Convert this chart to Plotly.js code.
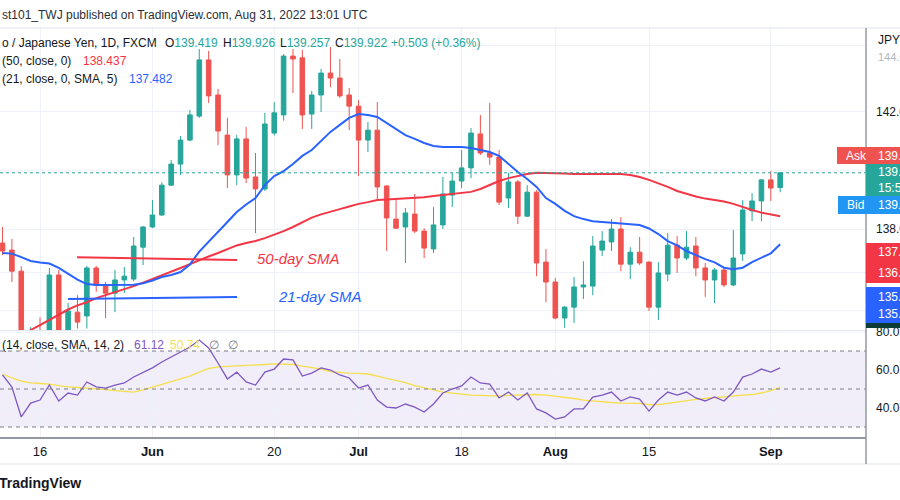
<!DOCTYPE html>
<html>
<head>
<meta charset="utf-8">
<script src="https://cdn.plot.ly/plotly-3.0.1.min.js"></script>
<style>html,body{margin:0;padding:0;background:#fff;}#chart{width:900px;height:500px;}</style>
</head>
<body>
<div id="chart"></div>
<script>
// ---- data (EUR/JPY 1D, FXCM) ----
const dates = [
 '2022-05-10','2022-05-11','2022-05-12','2022-05-13',
 '2022-05-16','2022-05-17','2022-05-18','2022-05-19','2022-05-20',
 '2022-05-23','2022-05-24','2022-05-25','2022-05-26','2022-05-27',
 '2022-05-30','2022-05-31','2022-06-01','2022-06-02','2022-06-03',
 '2022-06-06','2022-06-07','2022-06-08','2022-06-09','2022-06-10',
 '2022-06-13','2022-06-14','2022-06-15','2022-06-16','2022-06-17',
 '2022-06-20','2022-06-21','2022-06-22','2022-06-23','2022-06-24',
 '2022-06-27','2022-06-28','2022-06-29','2022-06-30','2022-07-01',
 '2022-07-04','2022-07-05','2022-07-06','2022-07-07','2022-07-08',
 '2022-07-11','2022-07-12','2022-07-13','2022-07-14','2022-07-15',
 '2022-07-18','2022-07-19','2022-07-20','2022-07-21','2022-07-22',
 '2022-07-25','2022-07-26','2022-07-27','2022-07-28','2022-07-29',
 '2022-08-01','2022-08-02','2022-08-03','2022-08-04','2022-08-05',
 '2022-08-08','2022-08-09','2022-08-10','2022-08-11','2022-08-12',
 '2022-08-15','2022-08-16','2022-08-17','2022-08-18','2022-08-19',
 '2022-08-22','2022-08-23','2022-08-24','2022-08-25','2022-08-26',
 '2022-08-29','2022-08-30','2022-08-31','2022-09-01','2022-09-02'];

const openP = [137.52,137.28,136.56,134.25,134.40,134.30,136.43,134.50,135.16,135.03,
 136.67,136.05,135.81,136.26,136.29,137.38,138.07,138.48,139.50,140.22,
 141.04,141.86,143.78,142.58,141.21,139.85,141.08,139.78,139.37,141.28,
 141.90,143.91,143.85,141.93,142.58,143.33,143.16,142.58,142.20,141.04,
 141.38,139.47,138.34,138.07,138.51,137.93,137.32,138.14,139.16,139.64,
 140.09,141.25,140.60,140.46,139.06,139.61,138.44,139.26,136.87,136.19,
 134.96,135.33,136.02,136.05,137.28,137.56,138.00,136.80,137.21,136.87,
 135.33,136.46,137.45,137.01,137.42,136.67,136.26,136.60,136.09,137.15,
 138.62,138.96,139.68,139.419];
const highP = [138.07,137.66,136.73,134.65,134.99,136.67,136.60,135.47,135.74,136.74,
 136.74,136.19,136.60,136.70,137.73,138.10,138.99,139.60,140.36,141.18,
 142.07,144.15,144.09,142.79,141.80,141.21,141.49,140.60,141.97,142.34,
 143.98,144.15,144.12,142.72,143.47,144.22,143.81,142.82,142.41,141.66,
 142.34,139.50,139.06,138.72,139.20,138.03,138.75,139.78,139.92,140.70,
 141.45,141.90,142.31,140.70,139.92,139.68,139.50,139.33,137.32,136.33,
 135.37,136.36,136.90,137.76,137.93,138.34,138.41,137.38,137.73,136.90,
 136.87,137.86,137.76,137.93,137.73,136.84,136.67,136.67,137.97,138.99,
 139.23,139.71,139.98,139.926];
const lowP = [137.11,136.19,133.70,133.75,133.90,134.10,134.30,134.30,134.60,134.60,
 135.85,134.96,135.16,135.81,136.22,136.77,138.03,138.45,139.47,139.85,
 141.00,141.80,142.31,140.87,139.40,139.50,139.57,137.86,139.30,141.20,
 141.70,142.65,141.42,141.42,142.00,142.85,142.48,141.38,139.81,140.63,
 138.99,137.25,138.00,136.84,137.86,137.01,137.18,138.00,138.75,139.40,
 139.74,140.53,140.19,138.82,138.72,138.17,138.41,136.39,135.50,134.92,
 134.62,134.79,135.61,135.74,137.08,137.25,136.56,136.29,136.77,135.20,
 134.89,136.22,136.50,136.94,136.39,135.68,135.47,136.02,136.05,136.91,
 138.27,138.27,138.96,139.257];
const closeP = [137.25,136.56,134.30,134.45,134.20,136.43,134.50,135.20,134.82,136.67,
 136.09,135.81,136.26,136.39,137.42,138.07,138.48,139.50,140.22,141.04,
 141.90,143.78,142.55,141.35,139.85,141.08,139.74,139.37,141.59,141.97,
 143.91,143.81,141.90,142.58,143.33,143.16,142.55,142.20,141.04,141.38,
 139.44,138.38,138.03,138.55,137.93,137.35,138.14,139.20,139.64,140.09,
 141.28,140.60,140.46,138.92,139.61,138.44,139.26,136.84,136.19,134.96,
 135.33,136.02,136.09,137.42,137.59,138.00,136.80,137.21,136.84,135.33,
 136.50,137.45,137.01,137.38,136.67,136.26,136.60,136.09,137.01,138.65,
 138.96,139.68,139.40,139.922];

const sma50 = [null,null,134.34,134.55,134.72,134.89,135.06,135.25,135.39,135.50,
 135.64,135.74,135.85,135.95,136.05,136.17,136.29,136.43,136.53,136.67,
 136.80,136.94,137.06,137.18,137.32,137.44,137.52,137.59,137.69,137.80,
 137.93,138.07,138.24,138.39,138.50,138.60,138.68,138.77,138.86,138.92,
 138.99,139.01,139.03,139.04,139.06,139.09,139.13,139.16,139.20,139.23,
 139.27,139.37,139.50,139.64,139.74,139.81,139.88,139.92,139.92,139.92,
 139.90,139.88,139.88,139.88,139.88,139.88,139.88,139.85,139.78,139.68,
 139.57,139.44,139.30,139.20,139.11,139.04,138.99,138.94,138.86,138.75,
 138.65,138.56,138.50,138.437];
const sma21 = [137.18,137.16,137.04,136.91,136.86,136.82,136.67,136.48,136.27,136.12,
 136.09,136.09,136.09,136.09,136.10,136.15,136.24,136.36,136.43,136.53,
 136.79,137.23,137.56,137.88,138.24,138.58,138.84,139.06,139.50,139.81,
 139.98,140.22,140.50,140.70,141.01,141.32,141.56,141.80,141.93,141.90,
 141.83,141.62,141.42,141.21,141.08,140.94,140.84,140.80,140.80,140.80,
 140.77,140.70,140.63,140.50,140.22,139.95,139.71,139.44,139.06,138.86,
 138.62,138.44,138.34,138.27,138.24,138.21,138.19,138.17,138.14,138.02,
 137.83,137.59,137.44,137.25,137.11,136.97,136.86,136.68,136.63,136.68,
 136.87,137.03,137.17,137.482];

const rsi = [57.4,51.0,35.3,42.6,44.2,52.1,43.7,47.9,46.8,53.7,
 51.1,50.5,52.1,53.2,56.3,58.9,61.1,64.2,66.8,69.5,
 72.1,75.8,71.6,63.7,55.3,58.9,53.7,52.1,58.9,60.5,
 65.8,65.3,56.8,58.4,61.1,60.0,57.4,55.8,50.5,52.1,
 44.2,40.5,40.0,42.1,40.5,37.9,42.1,47.9,50.0,51.6,
 56.3,53.2,52.6,45.3,48.4,44.2,47.9,39.5,37.4,34.2,
 35.3,39.5,39.5,45.8,46.8,48.4,43.7,45.8,44.7,38.4,
 44.2,48.4,46.8,48.4,45.3,43.7,45.8,43.7,48.4,56.3,
 57.9,60.5,58.9,61.12];
const rsiMa = [57.9,55.8,54.2,53.2,52.9,52.6,51.8,51.1,50.8,50.5,
 50.0,49.7,49.2,48.7,48.4,49.5,50.8,52.4,53.9,55.3,
 56.8,58.9,60.8,61.6,61.8,62.1,62.4,62.6,62.9,63.2,
 63.2,62.9,62.1,61.3,60.5,59.2,58.7,58.4,58.2,57.9,
 56.8,55.8,54.7,53.4,51.8,50.5,49.5,48.4,47.9,47.1,
 46.8,46.6,46.3,46.3,46.6,46.8,47.1,47.1,46.8,46.3,
 45.8,45.0,44.2,43.7,43.2,42.9,42.6,42.6,42.4,41.8,
 41.8,42.4,43.2,43.9,44.5,45.0,45.5,45.8,46.3,46.8,
 47.1,47.9,49.2,50.74];

const tickDates = ['2022-05-16','2022-06-01','2022-06-20','2022-07-01','2022-07-18','2022-08-01','2022-08-15','2022-09-01'];
const tickLabels = ['16','<b>Jun</b>','20','<b>Jul</b>','18','<b>Aug</b>','15','<b>Sep</b>'];

// hand-drawn lines on the chart (bar index, price)
const drawRedLine = {x:[7.95,25.03], y:[137.04,136.94]};
const drawBlueLine = {x:[6.99,25.03], y:[135.61,135.68]};

// ---- helpers for pixel-based decoration ----
const PL=0, PR=866, PT=28, PB=437;
const px = v => (v-PL)/(PR-PL);
const py = v => (PB-v)/(PB-PT);

const GREEN='#26a69a', RED='#ef5350', TXT='#131722';
const FONT='"Liberation Sans", Arial, sans-serif';

const traces = [
 {type:'candlestick', x:dates, open:openP, high:highP, low:lowP, close:closeP,
  xaxis:'x', yaxis:'y', whiskerwidth:0, hoverinfo:'none',
  increasing:{line:{color:GREEN,width:1}, fillcolor:GREEN},
  decreasing:{line:{color:RED,width:1}, fillcolor:RED}},
 {type:'scatter', mode:'lines', x:dates, y:sma50, xaxis:'x', yaxis:'y',
  line:{color:'#f23645', width:2}, hoverinfo:'none'},
 {type:'scatter', mode:'lines', x:dates, y:sma21, xaxis:'x', yaxis:'y',
  line:{color:'#2962ff', width:2}, hoverinfo:'none'},
 {type:'scatter', mode:'lines', x:dates, y:rsiMa, xaxis:'x', yaxis:'y2',
  line:{color:'#f5df4d', width:1.3}, hoverinfo:'none'},
 {type:'scatter', mode:'lines', x:dates, y:rsi, xaxis:'x', yaxis:'y2',
  line:{color:'#7e57c2', width:1.3}, hoverinfo:'none'}
];

const shapes = [
 // RSI band
 {type:'rect', xref:'paper', x0:0, x1:1, yref:'y2', y0:30, y1:70, fillcolor:'rgba(126,87,194,0.1)', line:{width:0}, layer:'below'},
 {type:'line', xref:'paper', x0:0, x1:1, yref:'y2', y0:70, y1:70, line:{color:'#787b86', width:1, dash:'4px,4px'}},
 {type:'line', xref:'paper', x0:0, x1:1, yref:'y2', y0:50, y1:50, line:{color:'#787b86', width:1, dash:'4px,4px'}},
 {type:'line', xref:'paper', x0:0, x1:1, yref:'y2', y0:30, y1:30, line:{color:'#787b86', width:1, dash:'4px,4px'}},
 // current price line
 {type:'line', xref:'paper', x0:0, x1:1, yref:'y', y0:closeP[closeP.length-1], y1:closeP[closeP.length-1], line:{color:GREEN, width:1, dash:'dot'}},
 // drawings
 {type:'line', xref:'x', yref:'y', x0:drawRedLine.x[0], x1:drawRedLine.x[1], y0:drawRedLine.y[0], y1:drawRedLine.y[1], line:{color:'#f23645', width:2}},
 {type:'line', xref:'x', yref:'y', x0:drawBlueLine.x[0], x1:drawBlueLine.x[1], y0:drawBlueLine.y[0], y1:drawBlueLine.y[1], line:{color:'#2962ff', width:2}},
 // frame lines
 {type:'line', xref:'paper', yref:'paper', x0:-0.01, x1:1.05, y0:1, y1:1, line:{color:'#e0e3eb', width:1}},
 {type:'line', xref:'paper', yref:'paper', x0:0, x1:1, y0:py(330.5), y1:py(330.5), line:{color:'#e0e3eb', width:1}},
 {type:'line', xref:'paper', yref:'paper', x0:-0.01, x1:1.05, y0:py(464), y1:py(464), line:{color:'#e0e3eb', width:1}},
 {type:'line', xref:'paper', yref:'paper', x0:1, x1:1, y0:py(464), y1:1, line:{color:'#9598a1', width:1.5}},
 // right-side price labels
 {type:'rect', xref:'paper', yref:'paper', x0:px(837), x1:px(905), y0:py(164), y1:py(147), fillcolor:'#ef5350', line:{width:0}},
 {type:'rect', xref:'paper', yref:'paper', x0:px(866), x1:px(905), y0:py(196), y1:py(164), fillcolor:GREEN, line:{width:0}},
 {type:'rect', xref:'paper', yref:'paper', x0:px(838), x1:px(905), y0:py(214), y1:py(196), fillcolor:'#2196f3', line:{width:0}},
 {type:'rect', xref:'paper', yref:'paper', x0:px(866), x1:px(905), y0:py(283), y1:py(243), fillcolor:'#f23645', line:{width:0}},
 {type:'rect', xref:'paper', yref:'paper', x0:px(866), x1:px(905), y0:py(323), y1:py(287), fillcolor:'#2962ff', line:{width:0}},
 {type:'rect', xref:'paper', yref:'paper', x0:px(866), x1:px(905), y0:py(328), y1:py(323), fillcolor:'#0c3b38', line:{width:0}}
];

function ann(text, x, y, size, color, extra) {
  return Object.assign({text:text, xref:'paper', yref:'paper', x:px(x), y:py(y), xanchor:'left', yanchor:'middle',
    showarrow:false, align:'left', font:{family:FONT, size:size, color:color}}, extra||{});
}
const g = s => '<span style="color:'+GREEN+'">'+s+'</span>';

const annotations = [
 ann('st101_TWJ published on TradingView.com, Aug 31, 2022 13:01 UTC', 0, 15, 12, '#2a2e39'),
 ann('o / Japanese Yen, 1D, FXCM', 0, 43, 12, TXT),
 ann('O'+g('139.419'), 163, 43, 12, TXT),
 ann('H'+g('139.926'), 221, 43, 12, TXT),
 ann('L'+g('139.257'), 278, 43, 12, TXT),
 ann('C'+g('139.922'), 333, 43, 12, TXT),
 ann(g('+0.503 (+0.36%)'), 389, 43, 12, TXT),
 ann('(50, close, 0)', 0, 61, 12, TXT),
 ann('138.437', 81, 61, 12, '#f23645'),
 ann('(21, close, 0, SMA, 5)', 0, 79, 12, TXT),
 ann('137.482', 127, 79, 12, '#2962ff'),
 ann('(14, close, SMA, 14, 2)', 0, 345, 12, TXT),
 ann('61.12', 132, 345, 12, '#7e57c2'),
 ann('50.74', 168, 345, 12, '#f5df4d'),
 ann('∅', 207, 345, 12, '#787b86'),
 ann('∅', 226, 345, 12, '#787b86'),
 ann('<i>50-day SMA</i>', 255, 258, 15, '#f23645'),
 ann('<i>21-day SMA</i>', 276, 296, 15, '#2962ff'),
 ann('JPY', 876, 40, 12, TXT),
 ann('144.0', 876, 57, 11, '#b2b5be'),
 ann('Ask', 844, 155.5, 12, '#ffffff'),
 ann('139.9', 876, 155.5, 12, '#ffffff'),
 ann('139.9', 876, 172, 12, '#ffffff'),
 ann('15:58', 876, 188, 12, '#ffffff'),
 ann('Bid', 845, 205, 12, '#ffffff'),
 ann('139.9', 876, 205, 12, '#ffffff'),
 ann('137.0', 876, 252, 12, '#ffffff'),
 ann('136.9', 876, 273, 12, '#ffffff'),
 ann('135.7', 876, 297, 12, '#ffffff'),
 ann('135.6', 876, 314, 12, '#ffffff'),
 ann('<b>TradingView</b>', -3, 483, 14, TXT)
];

const layout = {
  width:900, height:500,
  margin:{l:PL, r:900-PR, t:PT, b:500-PB, pad:0},
  paper_bgcolor:'#ffffff', plot_bgcolor:'rgba(0,0,0,0)',
  showlegend:false, hovermode:false, dragmode:false,
  font:{family:FONT, size:12, color:TXT},
  xaxis:{type:'category', anchor:'y2', range:[-0.27, 92.16], tickvals:tickDates, ticktext:tickLabels,
    showgrid:true, gridcolor:'#eef1f7', gridwidth:1, showline:true, linecolor:'#9598a1', linewidth:2,
    ticks:'', ticklabelstandoff:1, tickfont:{size:13, color:TXT}, rangeslider:{visible:false}, zeroline:false, fixedrange:true},
  yaxis:{domain:[py(330), 1], range:[134.55, 144.87], side:'right', anchor:'x',
    tickvals:[144.26, 142, 140, 138, 136.53, 135.23],
    ticktext:['','142.0','','138.0','',''],
    showgrid:true, gridcolor:'#eef1f7', ticks:'', ticklabelstandoff:9, zeroline:false, showline:false,
    tickfont:{size:12, color:TXT}, fixedrange:true},
  yaxis2:{domain:[0, py(331)], range:[24.74, 80.53], side:'right', anchor:'x',
    tickvals:[80, 60, 40], ticktext:['80.0','60.0','40.0'],
    showgrid:true, gridcolor:'#eef1f7', ticks:'', ticklabelstandoff:9, zeroline:false, showline:false,
    tickfont:{size:12, color:TXT}, fixedrange:true},
  shapes:shapes,
  annotations:annotations
};

Plotly.newPlot('chart', traces, layout, {displayModeBar:false, staticPlot:true});
</script>
</body>
</html>
